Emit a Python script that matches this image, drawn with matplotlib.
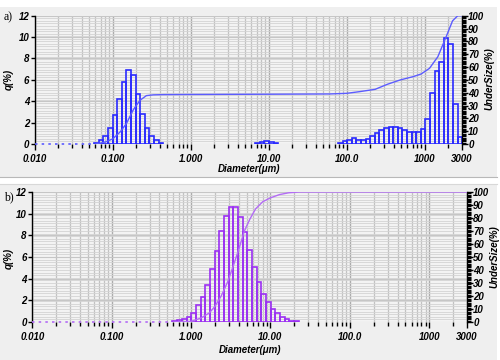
import matplotlib
matplotlib.use("Agg")
import matplotlib.pyplot as plt
from matplotlib.patches import Rectangle
from matplotlib.ticker import FixedLocator, FixedFormatter, MultipleLocator, NullFormatter, LogLocator
import numpy as np

# ---- size-class edges (µm) of the analyser channels ----
edges = [0.058, 0.067, 0.076, 0.087, 0.100, 0.115, 0.131, 0.150, 0.172, 0.197,
         0.226, 0.259, 0.296, 0.339, 0.389, 0.445, 0.510, 0.584, 0.669, 0.766,
         0.877, 1.005, 1.151, 1.318, 1.510, 1.729, 1.981, 2.269, 2.599, 2.976,
         3.409, 3.905, 4.472, 5.122, 5.867, 6.720, 7.697, 8.816, 10.097, 11.565,
         13.246, 15.172, 17.377, 19.904, 22.797, 26.111, 29.907, 34.255, 39.234, 44.938,
         51.471, 58.953, 67.523, 77.34, 88.58, 101.46, 116.21, 133.10, 152.45, 174.61,
         200.0, 229.07, 262.37, 300.52, 344.21, 394.24, 451.55, 517.2, 592.4, 678.5,
         777.1, 890.1, 1019.5, 1167.7, 1337.5, 1531.9, 1754.6, 2009.7, 2301.9, 2636.5,
         3000.0]

# ---- panel a: q(%) per channel ----
a_q_fine = [0.12, 0.37, 0.75, 1.5, 2.7, 4.2, 5.8, 6.9, 6.45, 4.7, 2.8, 1.45, 0.75, 0.37, 0.12]
a_q_mid = [0.12, 0.2, 0.28, 0.2, 0.12]
a_q_coarse = [0.12, 0.28, 0.4, 0.59, 0.37, 0.37, 0.5, 0.75, 1.0, 1.31, 1.53, 1.62, 1.62,
              1.53, 1.34, 1.15, 1.09, 1.09, 1.37, 2.34, 4.74, 6.83, 7.7, 9.88, 9.32, 3.71, 0.69]
a_q = a_q_fine + [0.0] * 20 + a_q_mid + [0.0] * 13 + a_q_coarse

a_cum_d = [0.06, 0.08, 0.10, 0.125, 0.15, 0.183, 0.223, 0.27, 0.33, 0.45, 1.0, 10.0, 60.0,
           100.0, 146.0, 231.0, 330.0, 483.0, 710.0, 900.0, 1150.0, 1470.0, 1880.0, 2270.0,
           2650.0, 3000.0]
a_cum = [0, 1.5, 4, 9.5, 16, 26.5, 34, 37.7, 38.3, 38.5, 38.6, 38.8, 39.0,
         39.5, 40.8, 42.6, 46.5, 49.9, 52.5, 54.6, 59, 68, 83.6, 96, 100, 100]

# ---- panel b ----
b_q_band = [0.1, 0.18, 0.3, 0.5, 0.86, 1.57, 2.28, 3.42, 4.9, 6.6, 8.36, 9.83, 10.57, 10.57,
            9.65, 8.3, 6.66, 5.06, 3.73, 2.56, 1.82, 1.23, 0.8, 0.49, 0.28, 0.12, 0.05]
b_q = [0.0] * 17 + b_q_band + [0.0] * 36

b_cum_d = [0.6, 1.0, 1.33, 1.7, 2.0, 2.4, 2.9, 3.4, 4.0, 4.7, 5.5, 6.5, 8.0, 10.0, 13.0,
           17.0, 23.0, 30.0, 3000.0]
b_cum = [0, 0.5, 3, 7, 12, 20, 31, 43, 56, 70, 79, 87, 92.5, 95.5, 98, 99.4, 100, 100, 100]

xtick_vals = [0.01, 0.1, 1, 10, 100, 1000, 3000]
xtick_labels = ['0.010', '0.100', '1.000', '10.00', '100.0', '1000', '3000']

W, H = 500, 360
fig = plt.figure(figsize=(W / 100, H / 100), dpi=100, facecolor='white')

def fx(x):
    return x / W

def fy(y):
    return 1 - y / H

# panel backgrounds
fig.patches.append(Rectangle((0, fy(177)), 0.994, fy(7) - fy(177), transform=fig.transFigure,
                             fc='#efefef', ec='none', zorder=-10))
fig.patches.append(Rectangle((0, 0), 0.994, fy(184), transform=fig.transFigure,
                             fc='#efefef', ec='none', zorder=-10))
fig.lines.append(plt.Line2D([0, 0.994], [fy(177), fy(177)], transform=fig.transFigure,
                            color='#b8b8b8', lw=0.8))
fig.lines.append(plt.Line2D([0, 0.994], [fy(184), fy(184)], transform=fig.transFigure,
                            color='#d8d8d8', lw=0.8))

tick_font = dict(family='Liberation Sans', weight='bold', style='italic', size=7)


def make_panel(rect, q, cum_d, cum, bar_color, line_color):
    ax = fig.add_axes(rect)
    ax.set_facecolor('#f3f3f3')
    ax.set_xscale('log')
    ax.set_xlim(0.01, 3000)
    ax.set_ylim(0, 12)
    ax.set_axisbelow(True)

    # grid
    ax.xaxis.set_major_locator(FixedLocator(xtick_vals))
    ax.xaxis.set_major_formatter(FixedFormatter(xtick_labels))
    ax.xaxis.set_minor_locator(LogLocator(base=10, subs=np.arange(2, 10), numticks=20))
    ax.xaxis.set_minor_formatter(NullFormatter())
    ax.yaxis.set_major_locator(MultipleLocator(2))
    ax.yaxis.set_minor_locator(MultipleLocator(0.24))
    ax.grid(which='major', axis='x', color='#acacac', lw=1.0)
    ax.grid(which='minor', axis='x', color='#c2c2c2', lw=0.9)
    ax.grid(which='major', axis='y', color='#c6c6c6', lw=0.8)
    ax.grid(which='minor', axis='y', color='#d3d3d3', lw=0.6)

    lo = np.array(edges[:-1])
    hi = np.array(edges[1:])
    qa = np.array(q)
    m = qa > 0
    ax.bar(lo[m], qa[m], width=(hi - lo)[m], align='edge', fill=False,
           edgecolor=bar_color, lw=1.2, zorder=3)
    first = lo[m][0]
    ax.plot([0.01, first], [0, 0], ls=(0, (1.5, 2.5)), color=line_color, lw=1.2, zorder=3,
            clip_on=False)

    for s in ['top', 'bottom']:
        ax.spines[s].set_visible(False)
    ax.spines['left'].set_color('black')
    ax.spines['left'].set_linewidth(1.0)
    ax.spines['right'].set_visible(False)
    ax.tick_params(axis='x', which='major', direction='out', length=4, width=1, pad=3,
                   colors='black')
    ax.tick_params(axis='x', which='minor', direction='out', length=3, width=1)
    ax.tick_params(axis='y', which='major', direction='out', length=3, width=1, pad=1)
    ax.tick_params(axis='y', which='minor', length=0)
    for t in ax.get_xticklabels() + ax.get_yticklabels():
        t.set_fontproperties(matplotlib.font_manager.FontProperties(**tick_font))

    ax2 = ax.twinx()
    ax2.set_ylim(0, 100)
    ax2.set_xlim(0.01, 3000)
    ax2.plot(cum_d, cum, color=line_color, lw=1.0, zorder=4)
    ax2.yaxis.set_major_locator(MultipleLocator(10))
    ax2.yaxis.set_minor_locator(MultipleLocator(1))
    ax2.tick_params(axis='y', which='major', direction='out', length=4, width=1, pad=0.5)
    ax2.tick_params(axis='y', which='minor', direction='out', length=3, width=0.9)
    for s in ['top', 'bottom', 'left']:
        ax2.spines[s].set_visible(False)
    ax2.spines['right'].set_linewidth(1.0)
    for t in ax2.get_yticklabels():
        t.set_fontproperties(matplotlib.font_manager.FontProperties(**tick_font))
    return ax, ax2


make_panel([fx(34.7), fy(144), fx(462) - fx(34.7), fy(15.7) - fy(144)], a_q, a_cum_d, a_cum,
           '#2a2aff', '#5c5cff')
make_panel([fx(32.3), fy(322), fx(467) - fx(32.3), fy(192) - fy(322)], b_q, b_cum_d, b_cum,
           '#9b30f2', '#b36cf5')

lab_font = dict(family='Liberation Sans', weight='bold', style='italic', size=7)
serif = dict(family='Liberation Serif', size=8.5)

fig.text(fx(4), fy(17), 'a)', ha='left', va='center', **serif)
fig.text(fx(4), fy(197), 'b)', ha='left', va='center', **serif)
fig.text(fx(9), fy(79), 'q(%)', rotation=90, ha='center', va='center', **lab_font)
fig.text(fx(9), fy(258), 'q(%)', rotation=90, ha='center', va='center', **lab_font)
fig.text(fx(489), fy(79), 'UnderSize(%)', rotation=90, ha='center', va='center', **lab_font)
fig.text(fx(494), fy(257), 'UnderSize(%)', rotation=90, ha='center', va='center', **lab_font)
fig.text(fx(249), fy(169), 'Diameter(μm)', ha='center', va='center', **lab_font)
fig.text(fx(250), fy(350), 'Diameter(μm)', ha='center', va='center', **lab_font)

fig.savefig('out.png', dpi=100, facecolor='white')
